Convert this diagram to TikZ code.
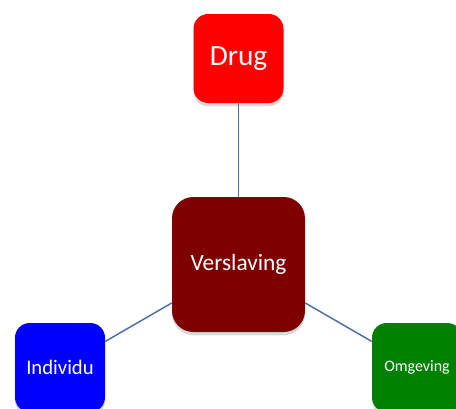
\documentclass[tikz,border=0pt]{standalone}
\usepackage{fontspec}
\setmainfont{Carlito}
\usetikzlibrary{shadows}
\definecolor{maroonbox}{RGB}{127,0,0}
\definecolor{greenbox}{RGB}{0,128,0}
\definecolor{linkblue}{RGB}{74,110,165}
\begin{document}
\begin{tikzpicture}[x=0.75pt, y=-0.75pt, line join=round,
	box/.style={rounded corners=11pt, inner sep=0pt, text=white, minimum width=67.5pt, minimum height=66.75pt,
		drop shadow={shadow xshift=0pt, shadow yshift=-2.5pt, opacity=0.3}},
	link/.style={draw=linkblue, line width=1.1pt}]
	\useasboundingbox (0,0) rectangle (456,408);
	\clip (0,0) rectangle (456,408);
	\node[box, fill=red, font=\fontsize{22}{26}\selectfont] (drug) at (238.5,58.5) {Drug};
	\node[box, fill=maroonbox, rounded corners=16pt, minimum width=99.75pt, minimum height=101.25pt, font=\fontsize{17.5}{21}\selectfont] (versl) at (238.5,264.5) {Verslaving};
	\node[box, fill=blue, font=\fontsize{15.5}{19}\selectfont] (indiv) at (60,367.5) {Individu};
	\node[box, fill=greenbox, font=\fontsize{12}{15}\selectfont] (omgev) at (417,367.5) {Omgeving};
	\draw[link] (versl) -- (drug);
	\draw[link] (versl) -- (indiv);
	\draw[link] (versl) -- (omgev);
\end{tikzpicture}
\end{document}
